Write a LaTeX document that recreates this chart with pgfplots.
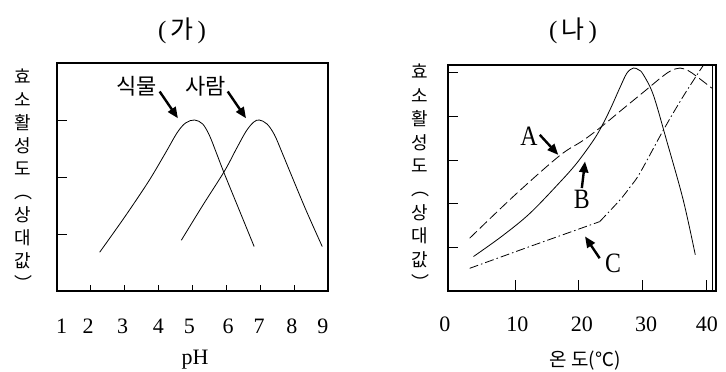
\documentclass[border=0pt]{standalone}
\usepackage{fontspec}
\setmainfont{Liberation Serif}
\newfontfamily\cjk{Noto Sans CJK KR}
\newfontfamily\nserif[FakeStretch=0.85]{Liberation Serif}
\usepackage{pgfplots}
\pgfplotsset{compat=1.18}
\usetikzlibrary{arrows.meta}
\tikzset{arr/.style={line width=2.4pt, -{Triangle[length=11pt,width=9pt]}}}
\begin{document}
\begin{tikzpicture}[x=1pt,y=1pt]
\useasboundingbox (0,0) rectangle (726,372);
\pgfplotsset{
  common/.style={
    anchor=south west, scale only axis,
    ymin=0, xticklabels={}, yticklabels={},
    tick align=inside, xtick pos=bottom, ytick pos=left,
    axis line style={line width=1.1pt},
    ytick style={/pgfplots/major tick length=10pt, line width=0.8pt, black},
    clip=false,
    every axis plot/.append style={line width=0.8pt, black, no marks},
  },
}
% ---------------- (가) ----------------
\begin{axis}[common, at={(57pt,81pt)}, width=271pt, height=228pt,
  xmin=1, xmax=9, ymax=4, xtick={2,...,8}, ytick={1,2,3},
  xtick style={/pgfplots/major tick length=6pt, line width=0.8pt, black}]
\addplot[smooth, tension=0.55] coordinates {(2.26,0.68) (3.0,1.3) (3.7,1.92) (4.2,2.42) (4.55,2.78) (4.8,2.95) (5.06,3.0) (5.3,2.93) (5.5,2.73) (5.7,2.43) (5.94,2.06) (6.38,1.42) (6.82,0.78)};
\addplot[smooth, tension=0.55] coordinates {(4.67,0.89) (5.3,1.5) (5.94,2.1) (6.3,2.5) (6.58,2.8) (6.8,2.96) (6.97,3.0) (7.2,2.93) (7.42,2.74) (7.65,2.42) (7.9,2.06) (8.35,1.42) (8.83,0.78)};
\draw[arr] (axis cs:4.03,3.50) -- (axis cs:4.57,3.03);
\draw[arr] (axis cs:6.04,3.50) -- (axis cs:6.58,3.03);
\node[font=\cjk\fontsize{22}{22}\selectfont] at (axis cs:3.34,3.6) {식물};
\node[font=\cjk\fontsize{22}{22}\selectfont] at (axis cs:5.38,3.6) {사람};
\begin{scope}[every node/.style={anchor=base, yshift=-42pt, font=\fontsize{22}{22}\selectfont}]
\node at (axis cs:1.14,0) {1};
\node at (axis cs:1.92,0) {2};
\node at (axis cs:2.94,0) {3};
\node at (axis cs:3.99,0) {4};
\node at (axis cs:4.91,0) {5};
\node at (axis cs:6.05,0) {6};
\node at (axis cs:6.97,0) {7};
\node at (axis cs:7.93,0) {8};
\node at (axis cs:8.85,0) {9};
\end{scope}
\end{axis}
% ---------------- (나) ----------------
\begin{axis}[common, at={(448pt,81pt)}, width=268pt, height=226pt,
  xmin=-0.5, xmax=41.55, ymax=5.18, xtick={10,20,30,40}, ytick={1,...,5},
  xtick style={/pgfplots/major tick length=11pt, line width=0.8pt, black}]
% A dashed
\addplot[smooth, tension=0.55, dash pattern=on 10pt off 4pt] coordinates {(2.9,1.21) (10,2.2) (17.0,3.1) (20.7,3.45) (23.6,3.77) (27,4.18) (30.6,4.61) (33,4.9) (34.5,5.05) (35.9,5.11) (37.2,5.05) (38.5,4.92) (40.9,4.65)};
% B solid
\addplot[smooth, tension=0.55] coordinates {(3.5,0.79) (8,1.26) (12.35,1.78) (17.1,2.5) (19.7,2.93) (22.3,3.45) (23.6,3.77) (25,4.18) (26.5,4.67) (27.6,5.0) (28.6,5.11) (29.4,5.07) (30.1,4.97) (31.7,4.5) (33.8,3.45) (36.4,2.09) (38.3,0.83)};
% C dash-dot
\addplot[sharp plot, dash pattern=on 9pt off 3pt on 1.5pt off 3pt] coordinates {(2.9,0.52) (12.35,1.02) (23.3,1.59)};
\addplot[smooth, tension=0.55, dash pattern=on 9pt off 3pt on 1.5pt off 3pt] coordinates {(23.3,1.59) (26.5,2.09) (28.1,2.39) (29.6,2.7) (33.3,3.69) (36.4,4.46) (39.5,5.16)};
\draw[line width=1.1pt] (axis cs:41.0,0) -- (axis cs:41.0,5.18);
\draw[arr] (axis cs:13.9,3.58) -- (axis cs:16.8,3.12);
\draw[arr] (axis cs:20.5,2.36) -- (axis cs:21.0,2.97);
\draw[arr] (axis cs:23.3,0.75) -- (axis cs:21.0,1.25);
\begin{scope}[every node/.style={font=\nserif\fontsize{28}{28}\selectfont}]
\node at (axis cs:12.2,3.54) {A};
\node at (axis cs:20.5,2.09) {B};
\node at (axis cs:25.4,0.64) {C};
\end{scope}
\begin{scope}[every node/.style={anchor=base, yshift=-41pt, font=\fontsize{22}{22}\selectfont}]
\node at (axis cs:-1.0,0) {0};
\node at (axis cs:10.4,0) {10};
\node at (axis cs:20.5,0) {20};
\node at (axis cs:30.6,0) {30};
\node at (axis cs:40.1,0) {40};
\end{scope}
\end{axis}
% titles and labels
\node[font=\fontsize{25}{25}\selectfont] at (182,341) {(\,{\cjk 가}\,)};
\node[font=\fontsize{25}{25}\selectfont] at (573,341) {(\,{\cjk 나}\,)};
\node[align=center, inner sep=0, anchor=north, font=\cjk\fontsize{18}{23}\selectfont]
  at (23,303) {효\\소\\활\\성\\도\\︵\\상\\대\\값\\︶};
\node[align=center, inner sep=0, anchor=north, font=\cjk\fontsize{18}{23.4}\selectfont]
  at (420,308) {효\\소\\활\\성\\도\\︵\\상\\대\\값\\︶};
\node[anchor=base, font=\fontsize{22}{22}\selectfont] at (195,7) {pH};
\node[anchor=base, font=\cjk\fontsize{19}{19}\selectfont] at (585,5) {온 도(℃)};
\end{tikzpicture}
\end{document}
